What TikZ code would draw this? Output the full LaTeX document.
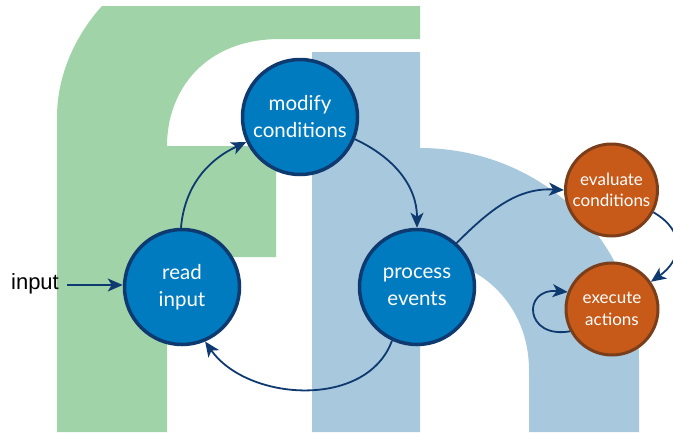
\documentclass[tikz,border=0pt]{standalone}
\usepackage{fontspec}
\setmainfont{Lato}
\newfontfamily\labelfont{Liberation Sans}
\usetikzlibrary{arrows.meta}
\definecolor{greenback}{HTML}{A0D4A8}
\definecolor{blueback}{HTML}{A8C8DE}
\definecolor{stagefill}{HTML}{007BC0}
\definecolor{stageline}{HTML}{0F3A70}
\definecolor{checkfill}{HTML}{C85A19}
\definecolor{checkline}{HTML}{7A3E1A}
\tikzset{
	>={Stealth[length=15pt,width=13pt,inset=4pt]},
	stage/.style={circle, draw=stageline, fill=stagefill, line width=3.5pt, inner sep=0pt,
		minimum size=115pt, text=white, align=center, font=\fontsize{20.5}{27}\selectfont},
	check/.style={circle, draw=checkline, fill=checkfill, line width=3pt, inner sep=0pt,
		minimum size=92pt, text=white, align=center, font=\fontsize{17}{21.5}\selectfont},
	flow/.style={draw=stageline, line width=1.8pt, ->},
}
\begin{document}
\begin{tikzpicture}[x=1pt,y=-1pt]
	\useasboundingbox (0,0) rectangle (673,432);
	% background letters
	\fill[greenback] (57,432) -- (57,117) .. controls (57,70) and (80,30) .. (102,6) -- (420,6) -- (420,39)
		-- (280,39) .. controls (205,39) and (167,90) .. (167,146) -- (276,146) -- (276,257) -- (167,257) -- (167,432) -- cycle;
	\fill[blueback] (312,432) -- (312,52) -- (420,52) -- (420,148) .. controls (540,148) and (639,240) .. (639,360)
		-- (639,432) -- (529,432) -- (529,370) .. controls (529,305) and (480,258) .. (420,258) -- (420,432) -- cycle;
	% circles
	\node[stage] (read) at (182,287) {read\\input};
	\node[stage] (modify) at (300,117) {modify\\conditions};
	\node[stage] (process) at (417,287) {process\\events};
	\node[check] (evaluate) at (611.5,190) {evaluate\\conditions};
	\node[check] (execute) at (612,309) {execute\\actions};
	\node[font=\labelfont\fontsize{22}{24}\selectfont, inner sep=0pt] (input) at (35,284) {input};
	% arrows
	\draw[flow] (input.east) ++(8,1) coordinate (start) -- (read.west |- start);
	\draw[flow] (read.91) to[out=85,in=205] (modify.205);
	\draw[flow] (modify.-22) to[out=-25,in=90] (process.90);
	\draw[flow] (process.48) to[out=45,in=177] (evaluate.180);
	\draw[flow] (process.245) to[out=250,in=-55] (read.-67);
	\draw[flow] (evaluate.-28) to[out=-30,in=35,looseness=1.4] (execute.35);
	\draw[flow] (execute.208) to[out=190,in=175,looseness=3] (execute.159);
\end{tikzpicture}
\end{document}
